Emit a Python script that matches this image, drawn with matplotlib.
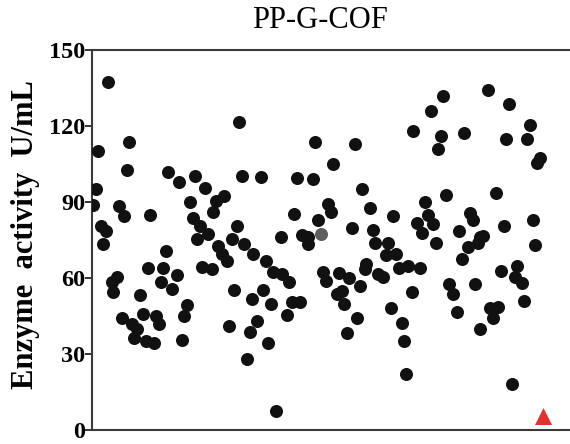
# PP-G-COF enzyme activity scatter

import matplotlib
matplotlib.use("Agg")
import matplotlib.pyplot as plt

plt.rcParams["font.family"] = ["Liberation Serif", "DejaVu Serif"]

# sample position (arbitrary screening order) and activity in U/mL
sample_pos = [
    0.7, 3.7, 6.3, 8.7, 11.3, 14, 16.3, 19.7, 21.3, 24.7,
    27.3, 29.7, 32.3, 34.7, 37.3, 39.7, 42.3, 45.3, 48, 50.7,
    54, 56, 58, 62, 64, 67, 68.7, 71.3, 74, 76.3,
    79.7, 84.7, 87.3, 89.7, 92, 94.7, 98, 100.7, 102.7, 105.3,
    108, 110.3, 113.3, 115.7, 119.7, 121.3, 124, 126.3, 129.7, 131.7,
    134.7, 137, 139.7, 142, 145.3, 147.3, 150, 152, 154.7, 158,
    160, 160.7, 165.3, 168.7, 170.7, 173.7, 176.3, 179, 181.3, 184,
    189, 189.7, 194.7, 197.3, 199.7, 202.3, 205, 208, 209.7, 216.3,
    216.3, 220.7, 223.3, 225.7, 231.3, 234, 236.3, 238.7, 241.3, 244.7,
    247, 249.7, 252, 254.7, 257.3, 259.7, 262.7, 265.3, 268, 270.3,
    273, 274, 278, 280.7, 283, 286.3, 291.3, 293.7, 296.3, 299,
    301.3, 304, 307.3, 309.7, 312, 314, 316.3, 320, 321, 325.3,
    328, 330, 333, 336.3, 338.7, 341.3, 344, 346.3, 349, 351.3,
    354, 357, 361.3, 364.7, 367.3, 370, 372.3, 375.7, 378, 380.7,
    383, 386.3, 388, 388, 391.3, 395.7, 398, 401.3, 404, 406.3,
    409, 412, 414.3, 417, 419.7, 423, 424.7, 430.3, 432.3, 435,
    438, 440.7, 443, 445.3, 448,
]
activity = [
    88.7, 95.3, 110, 80.6, 73.4, 78.6, 137.5, 58.4, 54.5, 60.3,
    88.5, 44.2, 84.3, 102.6, 113.6, 42, 36.5, 39.7, 53.1, 45.9,
    35, 64, 84.9, 34.5, 45, 42, 58.4, 64, 70.7, 102,
    55.8, 61, 98, 35.7, 45, 49.2, 89.9, 83.8, 100.2, 75.4,
    80.6, 64.5, 95.5, 77.3, 63.6, 86.1, 90.2, 72.5, 69.5, 92.4,
    66.9, 41.1, 75.4, 55.4, 80.4, 121.7, 100.2, 73.4, 28, 38.7,
    51.7, 69.5, 43.1, 99.9, 55.1, 66.9, 34.5, 49.9, 62.3, 7.7,
    76, 61.6, 45.5, 58.4, 50.5, 85.1, 99.3, 50.5, 77, 76,
    73.4, 99.2, 113.6, 83, 62.3, 59, 89.1, 85.9, 105, 53.8,
    61.9, 54.7, 49.9, 38.1, 60, 79.8, 113, 44.2, 56.8, 95.1,
    63.6, 65.6, 87.8, 79, 74, 61.6, 60.3, 69.1, 74, 48.2,
    84.3, 69.5, 63.9, 42.3, 35, 22, 64.9, 54.5, 117.9, 81.7,
    63.9, 77.6, 90, 84.9, 125.8, 81.3, 73.8, 111.1, 116.2, 131.9,
    92.9, 57.7, 53.8, 46.6, 78.6, 67.3, 117.3, 72.1, 85.8, 82.8,
    57.7, 73.8, 40, 76, 76.6, 134, 48.3, 44.2, 93.6, 48.6,
    62.9, 80.6, 115, 128.7, 18.1, 60.3, 64.9, 58.1, 50.9, 115,
    120.3, 83, 73.2, 105.5, 107.5,
]

# highlighted samples
gray_pos, gray_act = [228.7], [77.3]
ref_pos, ref_act = [451.3], [5.4]

yticks = [0, 30, 60, 90, 120, 150]

fig = plt.figure(figsize=(5.70, 4.44), dpi=100)
ax = fig.add_axes([0.1614, 0.0315, 0.8386, 0.856])

ax.scatter(sample_pos, activity, s=88, color="#111111", linewidths=0, zorder=3)
ax.scatter(gray_pos, gray_act, s=88, color="#5e5e5e", linewidths=0, zorder=4)
ax.scatter(ref_pos, ref_act, s=150, marker="^", color="#e3312d", linewidths=0, zorder=4)

ax.set_xlim(0, 478)
ax.set_ylim(0, 150)
ax.set_xticks([])
ax.set_yticks(yticks)
ax.set_yticklabels([str(t) for t in yticks], fontsize=17.5, fontweight="bold")
ax.tick_params(axis="y", direction="out", length=5, width=1.4, pad=0, color="#333333")

for side in ["left", "top", "bottom"]:
    ax.spines[side].set_linewidth(1.5)
    ax.spines[side].set_color("#3a3a3a")
ax.spines["right"].set_visible(False)

fig.text(0.561, 0.937, "PP-G-COF", fontsize=22, ha="center", va="baseline")
fig.text(0.044, 0.471, "Enzyme  activity  U/mL", fontsize=22, fontweight="bold",
         rotation=90, ha="center", va="center")

fig.savefig("out.png", dpi=100)
